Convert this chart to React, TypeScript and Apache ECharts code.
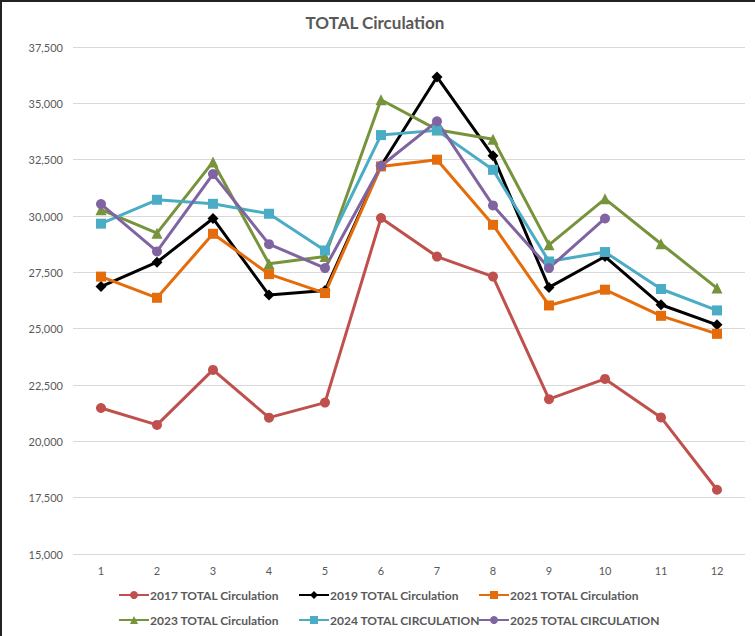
import React, { useEffect, useRef } from "react";
import * as echarts from "echarts";

const months = ["1", "2", "3", "4", "5", "6", "7", "8", "9", "10", "11", "12"];
const s2017 = [21480, 20730, 23170, 21050, 21720, 29910, 28200, 27310, 21870, 22770, 21060, 17850];
const s2019 = [26870, 27950, 29890, 26490, 26690, 32230, 36170, 32670, 26830, 28200, 26060, 25170];
const s2021 = [27310, 26370, 29210, 27420, 26580, 32200, 32500, 29610, 26030, 26730, 25570, 24770];
const s2023 = [30280, 29240, 32400, 27880, 28200, 35160, 33830, 33410, 28720, 30760, 28770, 26800];
const s2024 = [29660, 30720, 30540, 30100, 28470, 33590, 33800, 32050, 27980, 28400, 26760, 25810];
const s2025 = [30530, 28430, 31860, 28750, 27690, 32220, 34200, 30470, 27690, 29890, null, null];
const yTicks = { min: 15000, max: 37500, interval: 2500 };

const FONT = "Lato, 'Liberation Sans', sans-serif";
const GRAY = "#595959";

const seriesDefs = [
  { name: "2017 TOTAL Circulation", data: s2017, color: "#C0504D", symbol: "circle", size: 10 },
  { name: "2019 TOTAL Circulation", data: s2019, color: "#000000", symbol: "diamond", size: 11 },
  { name: "2021 TOTAL Circulation", data: s2021, color: "#E46C0A", symbol: "rect", size: 10 },
  { name: "2023 TOTAL Circulation", data: s2023, color: "#77933C", symbol: "triangle", size: 11 },
  { name: "2024 TOTAL CIRCULATION", data: s2024, color: "#4BACC6", symbol: "rect", size: 10 },
  { name: "2025 TOTAL CIRCULATION", data: s2025, color: "#8064A2", symbol: "circle", size: 10 },
];

const legendPos = [
  { left: 118, top: 589 },
  { left: 298, top: 589 },
  { left: 478, top: 589 },
  { left: 118, top: 614 },
  { left: 298, top: 614 },
  { left: 478, top: 614 },
];

export default function App() {
  const ref = useRef<HTMLDivElement>(null);
  useEffect(() => {
    document.body.style.margin = "0";
    if (!ref.current) return;
    const chart = echarts.init(ref.current, undefined, { renderer: "svg" });
    chart.setOption({
      animation: false,
      backgroundColor: "#ffffff",
      title: {
        text: "TOTAL Circulation",
        left: 370,
        textAlign: "center",
        top: 9,
        textStyle: { fontFamily: FONT, fontSize: 17, fontWeight: "bold", color: GRAY },
      },
      graphic: [
        { type: "rect", shape: { x: 0, y: 0, width: 755, height: 2 }, style: { fill: "#222" } },
        { type: "rect", shape: { x: 0, y: 0, width: 2, height: 636 }, style: { fill: "#222" } },
      ],
      legend: seriesDefs.map((s, i) => ({
        data: [s.name],
        left: legendPos[i].left,
        top: legendPos[i].top,
        itemWidth: 30,
        itemHeight: 10,
        itemGap: 0,
        padding: 0,
        textStyle: { fontFamily: FONT, fontSize: 12, fontWeight: "bold", color: GRAY, padding: [0, 0, 0, -4] },
      })),
      grid: { left: 73, right: 10, top: 47, bottom: 82, containLabel: false },
      xAxis: {
        type: "category",
        data: months,
        boundaryGap: true,
        axisLine: { show: false },
        axisTick: { show: false },
        axisLabel: { fontFamily: FONT, fontSize: 11, color: GRAY, margin: 11 },
      },
      yAxis: {
        type: "value",
        min: yTicks.min,
        max: yTicks.max,
        interval: yTicks.interval,
        axisLine: { show: false },
        axisTick: { show: false },
        splitLine: { lineStyle: { color: "#d9d9d9", width: 1 } },
        axisLabel: {
          fontFamily: FONT,
          fontSize: 11,
          color: GRAY,
          margin: 10,
          formatter: (v: number) => v.toLocaleString("en-US"),
        },
      },
      series: seriesDefs.map((s) => ({
        name: s.name,
        type: "line",
        data: s.data,
        symbol: s.symbol,
        symbolSize: s.size,
        showAllSymbol: true,
        lineStyle: { color: s.color, width: 3 },
        itemStyle: { color: s.color },
        emphasis: { disabled: true },
      })),
    });
    return () => chart.dispose();
  }, []);
  return <div ref={ref} style={{ width: 755, height: 636 }} />;
}
